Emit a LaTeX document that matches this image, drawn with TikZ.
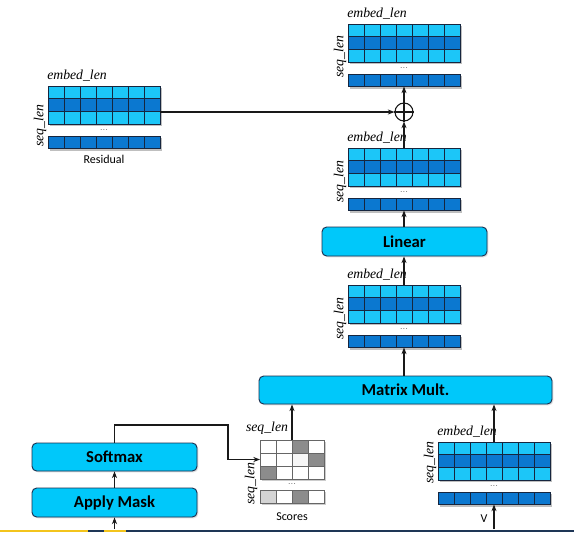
\documentclass[tikz,border=0pt]{standalone}
\usepackage{fontspec}
\newfontfamily\carl{Carlito}
\newfontfamily\tms{Liberation Serif}
\usetikzlibrary{shadows,arrows.meta}
\definecolor{lightB}{HTML}{1CC6F8}
\definecolor{darkB}{HTML}{0B78D0}
\definecolor{boxB}{HTML}{00C8FA}
\definecolor{edgeB}{HTML}{1B2F4F}
\definecolor{gDark}{HTML}{8C8C8C}
\definecolor{gLight}{HTML}{D4D4D4}
\definecolor{gPale}{HTML}{F6F6F6}
\definecolor{stripY}{HTML}{F3C41C}
\definecolor{stripN}{HTML}{1E3656}
\tikzset{
  cellline/.style={draw=edgeB!80!black,line width=0.5pt},
  gcell/.style={draw=black!60,line width=0.5pt},
  hold/.style={inner sep=0pt,outer sep=0pt,minimum width=84pt,minimum height=28.5pt},
  holdb/.style={inner sep=0pt,outer sep=0pt,minimum width=84pt,minimum height=9.4pt},
  dimlab/.style={font=\tms\fontsize{10.3}{11}\selectfont\itshape,inner sep=0pt},
  dotlab/.style={font=\fontsize{6}{6}\selectfont,inner sep=0pt},
  caplab/.style={font=\carl\fontsize{9}{10}\selectfont,inner sep=0pt},
  opbox/.style={draw=edgeB,line width=0.7pt,fill=boxB,rounded corners=3.5pt,
     font=\carl\bfseries\fontsize{12.5}{14}\selectfont,inner sep=0pt,
     drop shadow={shadow xshift=1pt,shadow yshift=-1pt,opacity=0.25}},
  arr/.style={draw=black!90,line width=0.8pt,-{Stealth[length=5pt,width=3.8pt]}},
  ln/.style={draw=black!90,line width=0.8pt}
}
\newcommand{\bmat}[4]{%
  \begin{scope}[shift={(#2,#3)}]
    \fill[black!25] (2,2) rectangle (114,40);
    \fill[black!25] (2,52) rectangle (114,64.5);
    \foreach \r/\cc in {0/lightB,1/darkB,2/lightB}
      \foreach \k in {0,...,6}
        \draw[cellline,fill=\cc] (\k*16,\r*12.67) rectangle ++(16,12.67);
    \foreach \k in {0,...,6}
      \draw[cellline,fill=darkB] (\k*16,50) rectangle ++(16,12.5);
    \node[hold] (#1) at (56,19) {};
    \node[holdb] (#1b) at (56,56.25) {};
    \node[dimlab] (#1e) at (29,-10) {embed\_len};
    \node[dimlab,rotate=90] (#1s) at (-8,#4) {seq\_len};
    \node[dotlab] (#1d) at (56,44) {...};
  \end{scope}}
\begin{document}
\begin{tikzpicture}[x=0.75pt,y=-0.75pt]
\useasboundingbox (0,0) rectangle (574,532);
\fill[white] (0,0) rectangle (574,532);
% bottom strip
\fill[stripN] (0,529.5) rectangle (574,532);
\fill[stripY] (0,529.5) rectangle (88,532);
\fill[stripY] (104,529.5) rectangle (126,532);

% matrices
\bmat{mo}{348}{24}{33}
\bmat{res}{48}{86}{40}
\bmat{mb}{348}{148}{34}
\bmat{mc}{348}{285}{34}
\bmat{vm}{438}{442}{21}

% scores
\begin{scope}[shift={(260,440)}]
  \fill[black!20] (2,2) rectangle (66,41);
  \fill[black!20] (2,52) rectangle (66,65);
  \foreach \r/\a/\b/\c/\d in {0/white/white/gDark/white,1/white/white/gPale/gDark,2/gDark/white/white/white}{
    \draw[gcell,fill=\a] (0,\r*13) rectangle ++(16,13);
    \draw[gcell,fill=\b] (16,\r*13) rectangle ++(16,13);
    \draw[gcell,fill=\c] (32,\r*13) rectangle ++(16,13);
    \draw[gcell,fill=\d] (48,\r*13) rectangle ++(16,13);
  }
  \draw[gcell,fill=gLight] (0,50) rectangle ++(16,13);
  \draw[gcell,fill=white] (16,50) rectangle ++(16,13);
  \draw[gcell,fill=gDark] (32,50) rectangle ++(16,13);
  \draw[gcell,fill=white] (48,50) rectangle ++(16,13);
  \node[inner sep=0pt,outer sep=0pt,minimum width=48pt,minimum height=29.25pt] (sc) at (32,19.5) {};
  \node[inner sep=0pt,outer sep=0pt,minimum width=48pt,minimum height=9.75pt] (scb) at (32,56.5) {};
  \node[dimlab] (sct) at (7,-12) {seq\_len};
  \node[dimlab,rotate=90] (scs) at (-9,44) {seq\_len};
  \node[dotlab] (scd) at (32,44) {...};
\end{scope}

% captions
\node[caplab] (resl) at (104,159) {Residual};
\node[caplab] (scl) at (292,517) {Scores};
\node[caplab] (vl) at (484,519) {V};

% op boxes
\node[opbox,minimum width=123.75pt,minimum height=21.75pt] (lin) at (404.5,241.5) {Linear};
\node[opbox,minimum width=219.75pt,minimum height=21pt] (mm) at (405.5,390) {Matrix Mult.};
\node[opbox,minimum width=123.75pt,minimum height=21pt] (sm) at (114.5,457) {Softmax};
\node[opbox,minimum width=123.75pt,minimum height=21.75pt] (am) at (114.5,502.5) {Apply Mask};

% plus
\node[draw=black!90,line width=0.8pt,circle,minimum size=13.5pt,inner sep=0pt] (pl) at (404,112) {};
\draw[ln] (pl.north) -- (pl.south);
\draw[ln] (pl.west) -- (pl.east);

% coordinates
\coordinate (amin) at (114.5,529);
\coordinate (vin) at (494,529);
\coordinate (k1) at (228,425);

% connectors
\draw[arr] (amin) -- (am.south);
\draw[arr] (am.north) -- (sm.south);
\draw[arr] (sm.north) |- (k1) |- (sc.west);
\draw[arr] (sc.north) -- (sc.north |- mm.south);
\draw[arr] (vin) -- (vmb.south);
\draw[arr] (vm.north) -- (vm.north |- mm.south);
\draw[arr] (mcb.south |- mm.north) -- (mcb.south);
\draw[arr] (mc.north) -- (mc.north |- lin.south);
\draw[arr] (mbb.south |- lin.north) -- (mbb.south);
\draw[arr] (mb.north) -- (pl.south);
\draw[arr] (pl.north) -- (mob.south);
\draw[arr] (res.east |- pl.west) -- (pl.west);
\end{tikzpicture}
\end{document}
